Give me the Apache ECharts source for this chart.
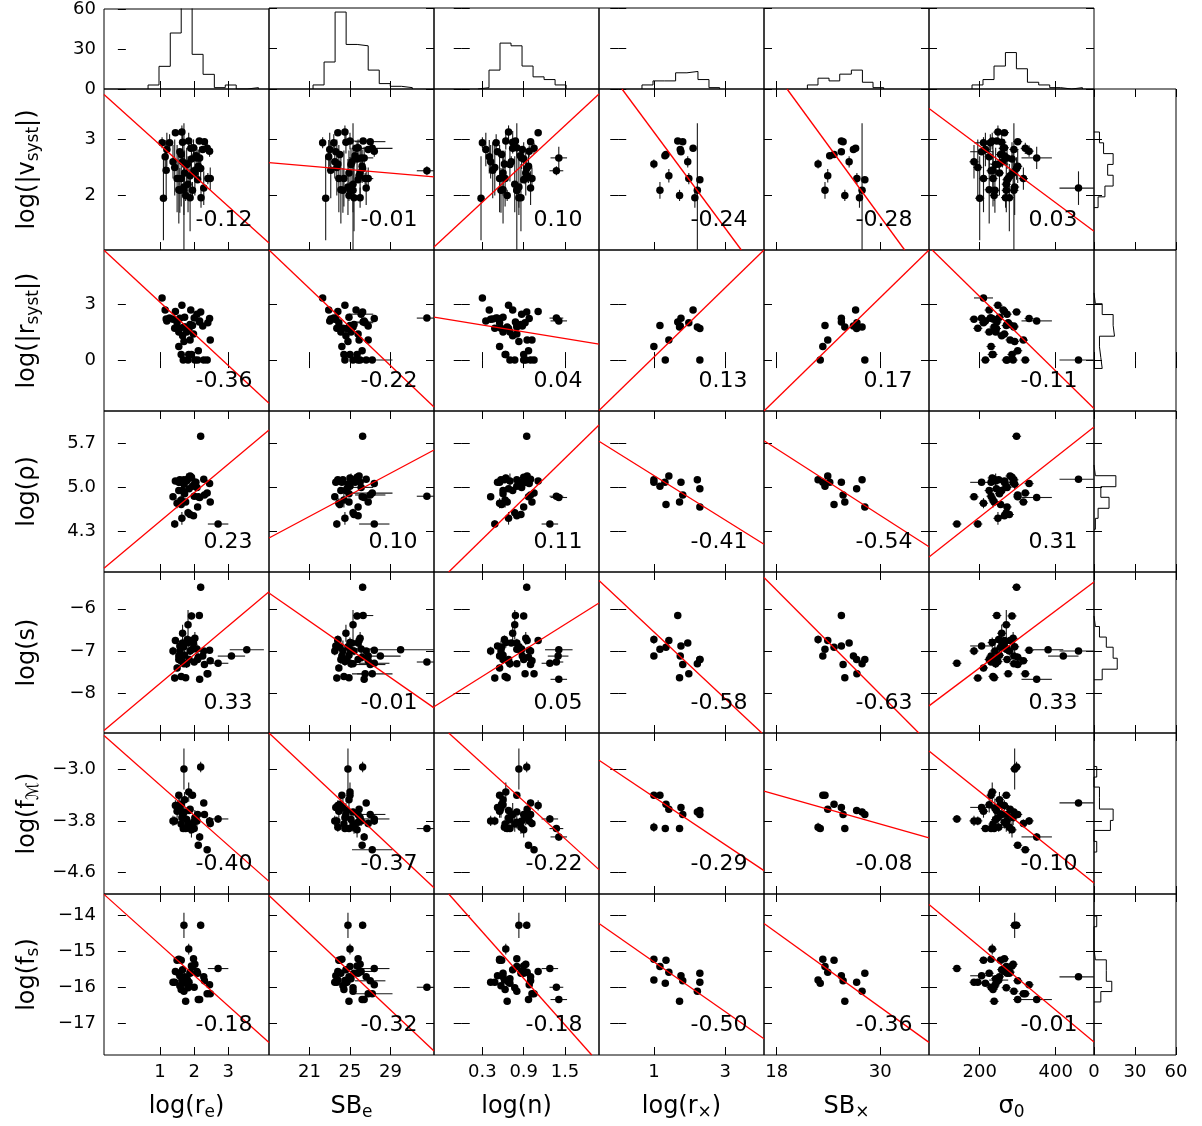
<!DOCTYPE html>
<html>
<head>
<meta charset="utf-8">
<script src="https://cdn.jsdelivr.net/npm/echarts@6/dist/echarts.min.js"></script>
<style>
html,body{margin:0;padding:0;background:#fff}
#chart{width:1202px;height:1126px}
</style>
</head>
<body>
<div id="chart"></div>
<script>
// ---- galaxy sample: one entry per galaxy (null = not measured) ----
// the first 19 entries have X-ray measurements (r_x, SB_x)
const logRe = [
  1.80, 1.55, 1.95, 1.68, 2.05, 1.62, 1.88, 2.15, 1.75, 2.25,
  1.58, 2.30, 1.66, 2.40, 1.90, 2.20, 1.70, 2.10, 1.85,
  1.06, 1.10, 1.15, 1.18, 1.20, 1.28, 1.38, 1.43, 1.50, 1.55,
  1.58, 1.62, 1.64, 1.66, 1.70, 1.72, 1.78, 1.82, 1.84, 1.88,
  1.92, 1.98, 2.02, 2.08, 2.12, 2.19, 2.28, 2.38, 2.45, 2.47,
  2.70, 3.09, 3.54, 2.00, 1.45, 2.16];
const sbE = [
  23.8, 24.2, 25.0, 24.5, 25.5, 24.0, 25.9, 26.3, 24.9, 26.8,
  23.6, 27.0, 25.2, 26.5, 25.6, 26.0, 25.3, 25.8, 24.7,
  22.3, 22.6, 22.9, 23.1, 23.0, 23.4, 23.5, 23.7, 23.9, 24.1,
  24.3, 24.4, 24.5, 24.6, 24.8, 24.9, 25.1, 25.3, 25.0, 25.4,
  25.7, 25.8, 26.0, 26.1, 26.2, 26.25, 26.6, 27.2, 27.4, 26.8,
  27.4, 28.0, 30.0, 32.6, 23.8, 26.4];
const logN = [
  0.62, 0.55, 0.80, 0.70, 0.85, 0.58, 0.95, 0.78, 0.66, 0.88,
  0.52, 1.00, 0.72, 0.92, 0.74, 0.83, 0.80, 0.90, 0.68,
  0.30, 0.28, 0.40, 0.45, 0.35, 0.50, 0.42, 0.48, 0.55, 0.60,
  0.57, 0.63, 0.68, 0.74, 0.83, 0.60, 0.70, 0.77, 0.64, 0.86,
  0.90, 0.80, 0.93, 0.87, 0.97, 0.944, 1.00, 1.05, 0.98, 1.02,
  1.28, 1.40, 1.41, 1.375, 1.11, 1.41];
const sigma0 = [
  250, 230, 270, 215, 265, 255, 280, 245, 238, 290,
  205, 300, 260, 275, 262, 268, 290, 272, 244,
  210, 200, 225, 235, 215, 228, 185, 195, 210, 225,
  240, 235, 248, 258, 292, 252, 242, 270, 233, 278,
  285, 265, 288, 272, 300, 297, 460, 320, 330, 315,
  140, 420, 380, 230, 265, 350];
const logRx = [
  1.00, 1.00, 1.17, 1.32, 1.31, 1.34, 1.42, 1.67, 1.72, 1.74,
  1.76, 1.81, 1.95, 1.98, 2.10, 2.15, 2.22, 2.29, 2.29,
  null, null, null, null, null, null, null, null, null, null,
  null, null, null, null, null, null, null, null, null, null,
  null, null, null, null, null, null, null, null, null, null,
  null, null, null, null, null, null];
const sbX = [
  22.8, 23.35, 23.6, 23.05, 24.15, 24.65, 23.92, 25.5, 25.9, 26.9,
  25.5, 25.7, 26.4, 27.3, 27.15, 27.6, 27.9, 28.22, 27.27,
  null, null, null, null, null, null, null, null, null, null,
  null, null, null, null, null, null, null, null, null, null,
  null, null, null, null, null, null, null, null, null, null,
  null, null, null, null, null, null];
const logVsyst = [
  2.56, null, 2.09, null, 2.71, 2.73, 2.35, 2.97, 2.00, 2.82,
  2.78, 2.96, 2.60, 2.30, 2.84, 1.96, 2.09, 2.28, null,
  2.94, 1.95, 2.69, 2.45, 2.82, 2.94, 2.60, 2.50, 2.30, 2.10,
  2.09, 2.30, 3.13, 2.95, 2.15, 2.40, 2.55, 2.20, 2.97, 1.96,
  2.65, 2.85, 2.40, 2.67, 2.52, 2.48, 2.13, 2.84, 2.79, 2.30,
  null, null, null, 2.44, 3.12, 2.67];
const logRsyst = [
  null, 0.73, 1.85, 0.00, null, null, 1.08, 2.04, 1.77, 1.82,
  2.24, null, null, 2.00, 2.68, null, 1.77, 0.00, 1.69,
  3.33, null, 2.68, 2.20, 2.10, 2.25, 2.19, 1.70, 2.00, 1.50,
  1.70, 0.30, 2.94, 1.30, 1.00, 2.30, 1.50, 0.00, 0.30, 1.90,
  0.30, 1.40, 0.00, 2.46, 0.50, 2.58, 0.00, 0.00, 2.23, 1.07,
  null, null, null, 2.25, 2.60, 2.10];
const logRho = [
  5.12, 5.08, 5.02, null, 5.08, 4.73, 5.18, null, 4.77, null,
  5.08, 4.88, null, null, null, null, 5.12, 4.69, 4.98,
  null, null, null, null, null, null, 4.85, 4.42, 4.75, 4.95,
  5.12, 4.80, 4.51, 4.95, 5.05, 4.90, 5.10, 4.60, 5.15, 4.57,
  5.16, 4.55, 5.08, 5.00, 4.85, 5.81, 5.13, 4.91, 5.06, 4.77,
  4.42, null, null, 4.86, 5.10, 4.84];
const logS = [
  -6.73, -7.12, -6.96, null, null, -6.91, -6.75, -6.16, -7.63, -7.12,
  -6.88, -7.32, -6.81, -7.54, null, null, -7.30, -7.20, -7.20,
  null, null, null, null, null, null, -7.00, -7.64, -7.40, -7.20,
  -7.00, -7.60, -7.25, -6.58, -6.90, -7.10, -7.30, -6.38, -6.80, -7.00,
  -6.17, -6.81, -6.70, -6.95, -7.15, -5.49, -7.00, -7.54, -6.98, -7.23,
  -7.29, -7.12, -6.97, -7.26, -6.75, -7.67];
const logFM = [
  -3.90, -3.40, -3.40, -3.92, null, -3.54, -3.62, null, -3.92, null,
  -3.59, -3.70, null, null, null, null, -3.66, -3.70, -3.64,
  null, null, null, null, null, null, -3.80, -3.80, -3.65, -3.55,
  -3.60, -3.85, -3.75, -3.70, -2.99, -3.47, -3.78, -3.85, -3.35, -3.90,
  -3.94, -3.82, -3.75, -3.80, -4.18, -2.96, -3.52, -4.25, -3.80, -3.84,
  -3.77, null, null, -3.92, -3.56, -4.05];
const logFs = [
  -15.79, -15.21, -15.41, -15.88, null, -15.24, -15.57, null, -16.38, null,
  -15.67, -15.81, null, null, null, null, -16.10, -15.60, -15.85,
  null, null, null, null, null, null, -15.85, -15.85, -15.24, -15.60,
  -15.95, -16.05, -15.80, -15.50, -14.27, -15.70, -15.75, -16.00, -14.93, -15.60,
  -15.40, -15.20, -15.35, -15.55, -16.33, -14.27, -15.70, -16.17, -15.92, -16.17,
  -15.47, null, null, -15.99, -15.55, -16.33];

// ---- 1-sigma uncertainties ----
const errRe = [
  0.04, 0.04, 0.04, 0.04, 0.04, 0.04, 0.04, 0.04, 0.04, 0.04,
  0.04, 0.04, 0.04, 0.04, 0.04, 0.04, 0.04, 0.04, 0.04,
  0.04, 0.04, 0.04, 0.04, 0.04, 0.04, 0.04, 0.04, 0.04, 0.04,
  0.04, 0.04, 0.04, 0.04, 0.04, 0.04, 0.04, 0.04, 0.04, 0.04,
  0.04, 0.04, 0.04, 0.04, 0.04, 0.04, 0.04, 0.04, 0.04, 0.04,
  0.30, 0.40, 0.50, 0.04, 0.04, 0.04];
const errSBe = [
  0.3, 0.3, 0.3, 0.3, 0.3, 0.3, 0.3, 1.0, 0.3, 0.3,
  0.3, 1.5, 0.3, 0.8, 0.3, 0.3, 0.3, 0.3, 0.3,
  0.3, 0.3, 0.3, 0.3, 0.3, 0.3, 0.3, 0.3, 0.3, 0.3,
  0.3, 0.3, 0.3, 0.3, 0.3, 0.3, 0.3, 0.3, 0.3, 0.3,
  0.3, 0.3, 0.3, 1.2, 0.3, 0.3, 0.3, 2.0, 0.3, 0.3,
  1.5, 2.0, 4.0, 1.0, 0.3, 0.3];
const errN = [
  0.02, 0.02, 0.02, 0.02, 0.02, 0.02, 0.02, 0.02, 0.02, 0.02,
  0.02, 0.02, 0.02, 0.02, 0.02, 0.02, 0.02, 0.02, 0.02,
  0.02, 0.02, 0.02, 0.02, 0.02, 0.02, 0.02, 0.02, 0.02, 0.02,
  0.02, 0.02, 0.02, 0.02, 0.02, 0.02, 0.02, 0.02, 0.02, 0.02,
  0.02, 0.02, 0.02, 0.02, 0.02, 0.02, 0.02, 0.02, 0.02, 0.02,
  0.12, 0.15, 0.20, 0.10, 0.03, 0.12];
const errSigma = [
  25, 12, 12, 12, 12, 12, 12, 12, 12, 12,
  30, 12, 12, 12, 12, 12, 12, 12, 12,
  25, 12, 12, 12, 12, 12, 12, 12, 12, 12,
  12, 12, 12, 12, 12, 12, 12, 12, 12, 12,
  12, 12, 12, 12, 12, 12, 50, 12, 12, 12,
  12, 40, 40, 12, 12, 40];
const errVsyst = [
  0.08, 0, 0.15, 0, 0.05, 0.05, 0.12, 0.04, 0.10, 0.06,
  0.05, 0.04, 0.10, 0.10, 0.05, 0.18, 1.20, 0.05, 0,
  0.10, 0.75, 0.30, 0.50, 0.30, 0.15, 0.30, 0.50, 0.60, 0.60,
  0.40, 0.50, 0.12, 0.20, 0.50, 0.40, 0.30, 0.50, 0.15, 0.60,
  0.30, 0.15, 0.40, 0.20, 0.30, 0.20, 0.30, 0.10, 0.10, 0.20,
  0, 0, 0, 0.08, 0.03, 0.20];
const errRho = [
  0.03, 0.03, 0.03, 0, 0.03, 0.05, 0.03, 0, 0.03, 0,
  0.03, 0.03, 0, 0, 0, 0, 0.03, 0.03, 0.03,
  0, 0, 0, 0, 0, 0, 0.04, 0.06, 0.08, 0.05,
  0.04, 0.12, 0.10, 0.05, 0.08, 0.04, 0.12, 0.06, 0.05, 0.05,
  0.04, 0.04, 0.06, 0.05, 0.04, 0.05, 0.03, 0.04, 0.05, 0.04,
  0.03, 0, 0, 0.03, 0.04, 0.05];
const errS = [
  0.10, 0.06, 0.06, 0, 0, 0.06, 0.06, 0.06, 0.06, 0.06,
  0.06, 0.06, 0.06, 0.06, 0, 0, 0.06, 0.06, 0.06,
  0, 0, 0, 0, 0, 0, 0.10, 0.08, 0.08, 0.10,
  0.25, 0.08, 0.10, 0.20, 0.15, 0.12, 0.10, 0.35, 0.12, 0.10,
  0.08, 0.10, 0.15, 0.12, 0.10, 0.08, 0.06, 0.08, 0.06, 0.06,
  0.06, 0.06, 0.06, 0.06, 0.08, 0.08];
const errFM = [
  0.07, 0.05, 0.05, 0.05, 0, 0.05, 0.05, 0, 0.05, 0,
  0.05, 0.05, 0, 0, 0, 0, 0.05, 0.05, 0.05,
  0, 0, 0, 0, 0, 0, 0.08, 0.07, 0.10, 0.12,
  0.15, 0.12, 0.10, 0.18, 0.32, 0.12, 0.10, 0.12, 0.15, 0.10,
  0.12, 0.10, 0.12, 0.08, 0.05, 0.08, 0.05, 0.05, 0.06, 0.06,
  0.06, 0, 0, 0.05, 0.08, 0.06];
const errFs = [
  0.06, 0.06, 0.06, 0.06, 0, 0.06, 0.06, 0, 0.06, 0,
  0.06, 0.06, 0, 0, 0, 0, 0.06, 0.06, 0.06,
  0, 0, 0, 0, 0, 0, 0.08, 0.08, 0.10, 0.10,
  0.08, 0.08, 0.10, 0.10, 0.35, 0.08, 0.10, 0.08, 0.15, 0.08,
  0.08, 0.08, 0.10, 0.08, 0.08, 0.10, 0.06, 0.08, 0.08, 0.08,
  0.06, 0, 0, 0.06, 0.08, 0.08];

// ---- axis ranges and ticks ----
const colRange = [[-0.64, 4.19], [17.0, 33.3], [-0.403, 1.994], [-0.54, 4.09], [16.53, 35.66], [66.6, 500.8]];
const rowRange = [[1.025, 3.90], [-2.73, 5.90], [3.66, 6.21], [-8.94, -5.13], [-4.94, -2.43], [-17.87, -13.40]];
const colTicks = [[1, 2, 3], [21, 25, 29], [0.3, 0.9, 1.5], [1, 3], [18, 30], [200, 400]];
const colTickLabels = [['1', '2', '3'], ['21', '25', '29'], ['0.3', '0.9', '1.5'], ['1', '3'], ['18', '30'], ['200', '400']];
const rowTicks = [[3, 2], [3, 0], [5.7, 5.0, 4.3], [-6, -7, -8], [-3.0, -3.8, -4.6], [-14, -15, -16, -17]];
const rowTickLabels = [['3', '2'], ['3', '0'], ['5.7', '5.0', '4.3'], ['\u22126', '\u22127', '\u22128'],
  ['\u22123.0', '\u22123.8', '\u22124.6'], ['\u221214', '\u221215', '\u221216', '\u221217']];
const countRange = [0, 60];
const countTicks = [0, 30, 60];
const countTickLabels = ['0', '30', '60'];

const colNames = ['{a|log(r}{s|e}{a|)}', '{a|SB}{s|e}', '{a|log(n)}', '{a|log(r}{s|\u00d7}{a|)}', '{a|SB}{s|\u00d7}', '{a|\u03c3}{s|0}'];
const rowNames = ['{a|log(|v}{s|syst}{a||)}', '{a|log(|r}{s|syst}{a||)}', '{a|log(\u03c1)}', '{a|log(s)}', '{a|log(f}{s|\u2133}{a|)}', '{a|log(f}{s|s}{a|)}'];

// ---- marginal histograms (bin edges, counts) ----
const topHistEdges = [
  [0.65, 0.97, 1.30, 1.62, 1.94, 2.26, 2.59, 2.91, 3.23, 3.55, 3.88],
  [21.35, 22.44, 23.53, 24.62, 25.71, 26.80, 27.89, 28.98, 30.07, 31.16],
  [0.236, 0.396, 0.556, 0.716, 0.876, 1.036, 1.196, 1.356, 1.516],
  [0.666, 0.975, 1.29, 1.61, 1.928, 2.237, 2.546, 2.846],
  [21.56, 22.79, 24.07, 25.31, 26.66, 27.94, 29.17, 30.41],
  [179.8, 208.7, 237.7, 267.7, 296.6, 325.6, 355.3, 384.3, 413.2, 442.2, 470.3]];
const topHistCounts = [
  [3, 17, 42, 70, 26, 11, 1, 3, 0, 1],
  [3, 20, 57, 33, 32, 14, 4, 2, 1],
  [1, 14, 34, 32, 17, 9, 7, 3],
  [3, 6, 6, 12, 13, 7, 1],
  [3, 8, 6, 11, 14, 5, 1],
  [3, 7, 17, 27, 15, 5, 3, 1, 0, 1]];
const sideHistEdges = [
  [3.132, 2.939, 2.746, 2.553, 2.360, 2.167, 1.974, 1.782],
  [3.60, 3.02, 2.44, 1.86, 1.28, 0.71, 0.13, -0.45],
  [5.355, 5.185, 5.011, 4.843, 4.669, 4.51, 4.336],
  [-6.17, -6.42, -6.67, -6.91, -7.17, -7.43, -7.68],
  [-2.952, -3.117, -3.273, -3.44, -3.616, -3.793, -3.949, -4.12, -4.286],
  [-14.015, -14.309, -14.619, -14.929, -15.228, -15.527, -15.824, -16.109, -16.397]];
const sideHistCounts = [
  [4, 7, 14, 10, 14, 8, 3],
  [1, 6, 14, 15, 4, 5, 6],
  [1, 16, 5, 11, 3, 1],
  [1, 4, 9, 14, 17, 6],
  [2, 0, 4, 4, 14, 12, 0, 2],
  [2, 0, 0, 1, 9, 9, 13, 5]];

// ---- linear fits (two points per panel, data units) and correlation coefficients ----
const fitLines = [
  [[[-0.64, 3.80], [4.19, 1.15]], [[17.0, 2.586], [33.3, 2.33]], [[-0.403, 1.08], [1.994, 3.81]],
   [[0.105, 3.90], [3.454, 1.025]], [[19.2, 3.90], [32.84, 1.025]], [[66.6, 3.55], [500.8, 1.36]]],
  [[[-0.64, 5.89], [4.19, -2.32]], [[17.0, 5.90], [33.3, -2.52]], [[-0.403, 2.30], [1.994, 0.855]],
   [[-0.54, -2.70], [4.09, 5.90]], [[16.53, -2.73], [35.66, 5.90]], [[75, 5.90], [500.8, -2.60]]],
  [[[-0.64, 3.718], [4.19, 5.909]], [[17.0, 4.199], [33.3, 5.592]], [[-0.189, 3.66], [1.994, 5.988]],
   [[-0.54, 5.73], [4.09, 4.10]], [[16.53, 5.74], [35.66, 4.06]], [[66.6, 3.898], [500.8, 5.957]]],
  [[[-0.64, -8.88], [4.19, -5.596]], [[17.0, -5.626], [33.3, -8.345]], [[-0.403, -8.32], [1.994, -5.863]],
   [[-0.54, -5.33], [4.03, -8.94]], [[16.53, -5.26], [34.48, -8.94]], [[66.6, -8.298], [500.8, -5.366]]],
  [[[-0.64, -2.469], [4.19, -4.743]], [[17.0, -2.43], [33.3, -4.842]], [[-0.189, -2.43], [1.994, -4.56]],
   [[-0.54, -2.856], [4.09, -4.576]], [[16.53, -3.336], [35.66, -4.064]], [[66.6, -2.71], [500.8, -4.77]]],
  [[[-0.64, -13.41], [4.19, -17.52]], [[17.0, -13.44], [33.3, -17.76]], [[-0.189, -13.40], [1.888, -17.87]],
   [[-0.54, -14.22], [4.09, -17.42]], [[16.53, -14.22], [35.66, -17.52]], [[66.6, -13.69], [500.8, -17.51]]]];
const corrCoef = [
  ['-0.12', '-0.01', '0.10', '-0.24', '-0.28', '0.03'],
  ['-0.36', '-0.22', '0.04', '0.13', '0.17', '-0.11'],
  ['0.23', '0.10', '0.11', '-0.41', '-0.54', '0.31'],
  ['0.33', '-0.01', '0.05', '-0.58', '-0.63', '0.33'],
  ['-0.40', '-0.37', '-0.22', '-0.29', '-0.08', '-0.10'],
  ['-0.18', '-0.32', '-0.18', '-0.50', '-0.36', '-0.01']];

// ---- layout ----
const FONT = 'DejaVu Sans';
const colLeft = [104, 269, 434, 599, 764, 929];
const colW = 165;
const rowTop = [89, 250, 411, 572, 733, 894];
const rowH = 161;
const topHistY = 8, topHistH = 81;
const sideHistX = 1094, sideHistW = 82;

const colVals = [logRe, sbE, logN, logRx, sbX, sigma0];
const colErr = [errRe, errSBe, errN, null, null, errSigma];
const rowVals = [logVsyst, logRsyst, logRho, logS, logFM, logFs];
const rowErr = [errVsyst, null, errRho, errS, errFM, errFs];

const option = {animation: false, backgroundColor: '#fff', grid: [], xAxis: [], yAxis: [], series: [], graphic: []};

const nameRich = {
  a: {fontFamily: FONT, fontSize: 24, lineHeight: 28, color: '#000'},
  s: {fontFamily: FONT, fontSize: 17, lineHeight: 14, verticalAlign: 'bottom', color: '#000'}
};

function labelFormatter(vals, labels) {
  return function (v) {
    for (let i = 0; i < vals.length; i++) if (Math.abs(v - vals[i]) < 1e-9) return labels[i];
    return '';
  };
}

function makeAxis(gridIndex, position, range, ticks, tickLabels, cfg) {
  cfg = cfg || {};
  const ax = {
    type: 'value', gridIndex, position, min: range[0], max: range[1],
    axisLine: {show: false},
    splitLine: {show: false},
    axisTick: {show: cfg.noTicks ? false : true, inside: true, length: 8,
      lineStyle: {color: '#000', width: 1}, customValues: ticks},
    axisLabel: {show: !!cfg.labels, customValues: ticks, margin: 8,
      formatter: labelFormatter(ticks, tickLabels),
      color: '#000', fontFamily: FONT, fontSize: 18}
  };
  if (cfg.name) {
    ax.name = cfg.name;
    ax.nameLocation = 'middle';
    ax.nameGap = cfg.nameGap;
    if (cfg.nameRotate !== undefined) ax.nameRotate = cfg.nameRotate;
    ax.nameTextStyle = {rich: nameRich};
  }
  return ax;
}

function addPanel(left, top, width, height, xr, xt, xl, yr, yt, yl, cfg) {
  option.grid.push({left, top, width, height, show: true, borderColor: '#000', borderWidth: 1,
    backgroundColor: 'transparent', containLabel: false});
  const gi = option.grid.length - 1;
  const xi = option.xAxis.length, yi = option.yAxis.length;
  option.xAxis.push(makeAxis(gi, 'bottom', xr, xt, xl, cfg.xBottom));
  option.xAxis.push(makeAxis(gi, 'top', xr, xt, xl, {}));
  option.yAxis.push(makeAxis(gi, 'left', yr, yt, yl, cfg.yLeft));
  option.yAxis.push(makeAxis(gi, 'right', yr, yt, yl, {}));
  return {xi, yi};
}

function renderErrorBar(params, api) {
  const x = api.value(0), y = api.value(1), xe = api.value(2), ye = api.value(3);
  const cs = params.coordSys;
  const cx = v => Math.min(Math.max(v, cs.x), cs.x + cs.width);
  const cy = v => Math.min(Math.max(v, cs.y), cs.y + cs.height);
  const style = {stroke: '#1a1a1a', lineWidth: 1.1};
  const kids = [];
  if (xe > 0) {
    const a = api.coord([x - xe, y]), b = api.coord([x + xe, y]);
    kids.push({type: 'line', shape: {x1: cx(a[0]), y1: a[1], x2: cx(b[0]), y2: b[1]}, style});
  }
  if (ye > 0) {
    const a = api.coord([x, y - ye]), b = api.coord([x, y + ye]);
    kids.push({type: 'line', shape: {x1: a[0], y1: cy(a[1]), x2: b[0], y2: cy(b[1])}, style});
  }
  return {type: 'group', children: kids};
}

function stepOutline(edges, counts, horizontal) {
  const pts = [];
  const push = (e, c) => pts.push(horizontal ? [c, e] : [e, c]);
  push(edges[0], 0);
  for (let i = 0; i < counts.length; i++) {
    push(edges[i], counts[i]);
    push(edges[i + 1], counts[i]);
  }
  push(edges[edges.length - 1], 0);
  return pts;
}

// scatter matrix
for (let r = 0; r < 6; r++) {
  for (let c = 0; c < 6; c++) {
    const cfg = {
      xBottom: r === 5 ? {labels: true, name: colNames[c], nameGap: 38} : {},
      yLeft: c === 0 ? {labels: true, noTicks: true, name: rowNames[r], nameGap: 62, nameRotate: 90} : {}
    };
    const ax = addPanel(colLeft[c], rowTop[r], colW, rowH,
      colRange[c], colTicks[c], colTickLabels[c], rowRange[r], rowTicks[r], rowTickLabels[r], cfg);
    const xs = colVals[c], ys = rowVals[r];
    const pts = [], bars = [];
    for (let i = 0; i < xs.length; i++) {
      if (xs[i] === null || ys[i] === null) continue;
      pts.push([xs[i], ys[i]]);
      bars.push([xs[i], ys[i], colErr[c] ? colErr[c][i] : 0, rowErr[r] ? rowErr[r][i] : 0]);
    }
    option.series.push({
      type: 'custom', xAxisIndex: ax.xi, yAxisIndex: ax.yi, data: bars,
      encode: {x: 0, y: 1}, renderItem: renderErrorBar, silent: true, z: 2
    });
    option.series.push({
      type: 'scatter', xAxisIndex: ax.xi, yAxisIndex: ax.yi, data: pts,
      symbol: 'circle', symbolSize: 7.5, itemStyle: {color: '#000', opacity: 1}, silent: true, z: 3
    });
    option.series.push({
      type: 'line', xAxisIndex: ax.xi, yAxisIndex: ax.yi, data: fitLines[r][c],
      symbol: 'none', clip: true, lineStyle: {color: '#ff0000', width: 1.3}, silent: true, z: 4
    });
    option.graphic.push({
      type: 'text', x: colLeft[c] + 0.9 * colW, y: rowTop[r] + rowH - 19, z: 10,
      style: {text: corrCoef[r][c], fill: '#000', font: '22px "DejaVu Sans"', align: 'right', verticalAlign: 'bottom'}
    });
  }
}

// histograms above each column
for (let c = 0; c < 6; c++) {
  const cfg = {yLeft: c === 0 ? {labels: true, noTicks: true} : {}};
  const ax = addPanel(colLeft[c], topHistY, colW, topHistH,
    colRange[c], colTicks[c], colTickLabels[c], countRange, countTicks, countTickLabels, cfg);
  option.series.push({
    type: 'line', xAxisIndex: ax.xi, yAxisIndex: ax.yi, data: stepOutline(topHistEdges[c], topHistCounts[c], false),
    symbol: 'none', clip: true, lineStyle: {color: '#000', width: 1}, silent: true
  });
}

// histograms to the right of each row
for (let r = 0; r < 6; r++) {
  const cfg = {xBottom: r === 5 ? {labels: true} : {}};
  const ax = addPanel(sideHistX, rowTop[r], sideHistW, rowH,
    countRange, countTicks, countTickLabels, rowRange[r], rowTicks[r], rowTickLabels[r], cfg);
  option.series.push({
    type: 'line', xAxisIndex: ax.xi, yAxisIndex: ax.yi, data: stepOutline(sideHistEdges[r], sideHistCounts[r], true),
    symbol: 'none', clip: true, lineStyle: {color: '#000', width: 1}, silent: true
  });
}

const chart = echarts.init(document.getElementById('chart'), null, {renderer: 'canvas'});
chart.setOption(option);
</script>
</body>
</html>
